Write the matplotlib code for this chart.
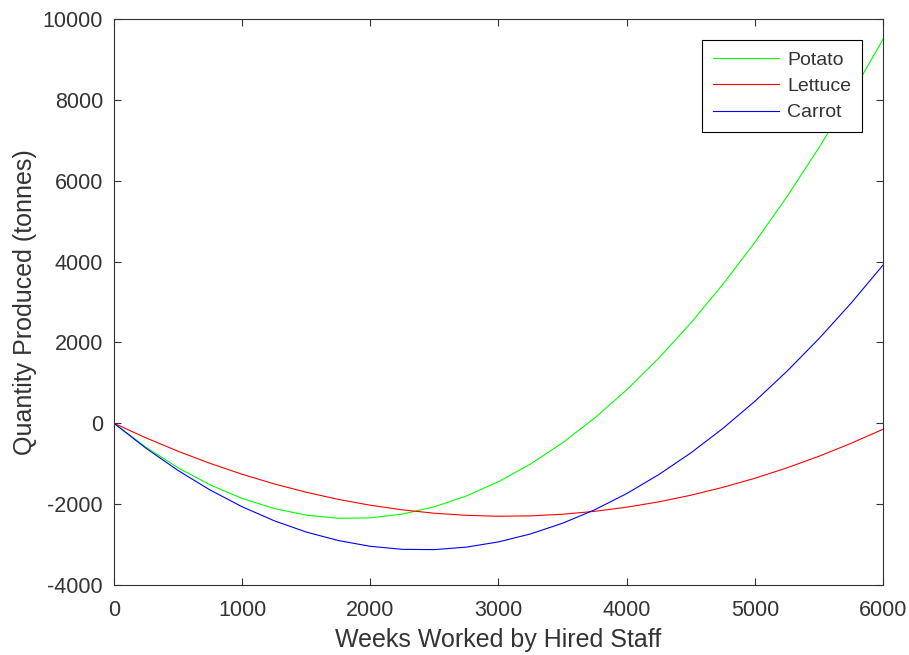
import matplotlib
matplotlib.use('Agg')
import matplotlib.pyplot as plt

plt.rcParams['font.family'] = ['Liberation Sans', 'DejaVu Sans']
plt.rcParams['axes.unicode_minus'] = False

# weeks worked (x) and quantity produced per crop
weeks = [0, 250, 500, 750, 1000, 1250, 1500, 1750, 2000, 2250, 2500, 2750, 3000,
         3250, 3500, 3750, 4000, 4250, 4500, 4750, 5000, 5250, 5500, 5750, 6000]
potato = [0, -594, -1101, -1523, -1859, -2108, -2272, -2349, -2340, -2246, -2065, -1798, -1445,
          -1007, -482, 129, 826, 1610, 2479, 3434, 4475, 5602, 6816, 8115, 9500]
lettuce = [0, -362, -692, -992, -1261, -1499, -1706, -1882, -2027, -2141, -2225, -2277, -2299,
           -2290, -2250, -2178, -2076, -1944, -1780, -1585, -1360, -1103, -816, -497, -148]
carrot = [0, -618, -1168, -1651, -2065, -2411, -2690, -2900, -3043, -3118, -3125, -3063, -2934,
          -2737, -2472, -2140, -1739, -1270, -734, -129, 543, 1284, 2092, 2968, 3912]

xticks = [0, 1000, 2000, 3000, 4000, 5000, 6000]
yticks = [-4000, -2000, 0, 2000, 4000, 6000, 8000, 10000]

fig = plt.figure(figsize=(9.09, 6.55), dpi=100)
ax = fig.add_axes([114/909, 1-585/655, (883-114)/909, (585-19)/655])

ax.plot(weeks, potato, color='#00ff00', lw=0.8, label='Potato')
ax.plot(weeks, lettuce, color='#ff0000', lw=0.8, label='Lettuce')
ax.plot(weeks, carrot, color='#0000ff', lw=0.8, label='Carrot')

ax.set_xlim(0, 6000)
ax.set_ylim(-4000, 10000)
ax.set_xticks(xticks)
ax.set_yticks(yticks)

gray = '#333333'
for s in ax.spines.values():
    s.set_color(gray)
    s.set_linewidth(0.8)
ax.tick_params(direction='in', top=True, right=True, length=5, width=0.8,
               colors=gray, labelsize=15.5)
ax.tick_params(axis='x', pad=11)
ax.tick_params(axis='y', pad=8)
ax.set_xlabel('Weeks Worked by Hired Staff', fontsize=18, color=gray, labelpad=5)
ax.set_ylabel('Quantity Produced (tonnes)', fontsize=18, color=gray, labelpad=4)

leg = ax.legend(loc='upper right', fontsize=14, handlelength=3.4, fancybox=False,
                borderaxespad=1.1, labelspacing=0.45, handletextpad=0.4,
                borderpad=0.55, framealpha=1)
leg.get_frame().set_edgecolor('black')
leg.get_frame().set_linewidth(0.8)
for t in leg.get_texts():
    t.set_color(gray)

fig.savefig('out.png', dpi=100)
